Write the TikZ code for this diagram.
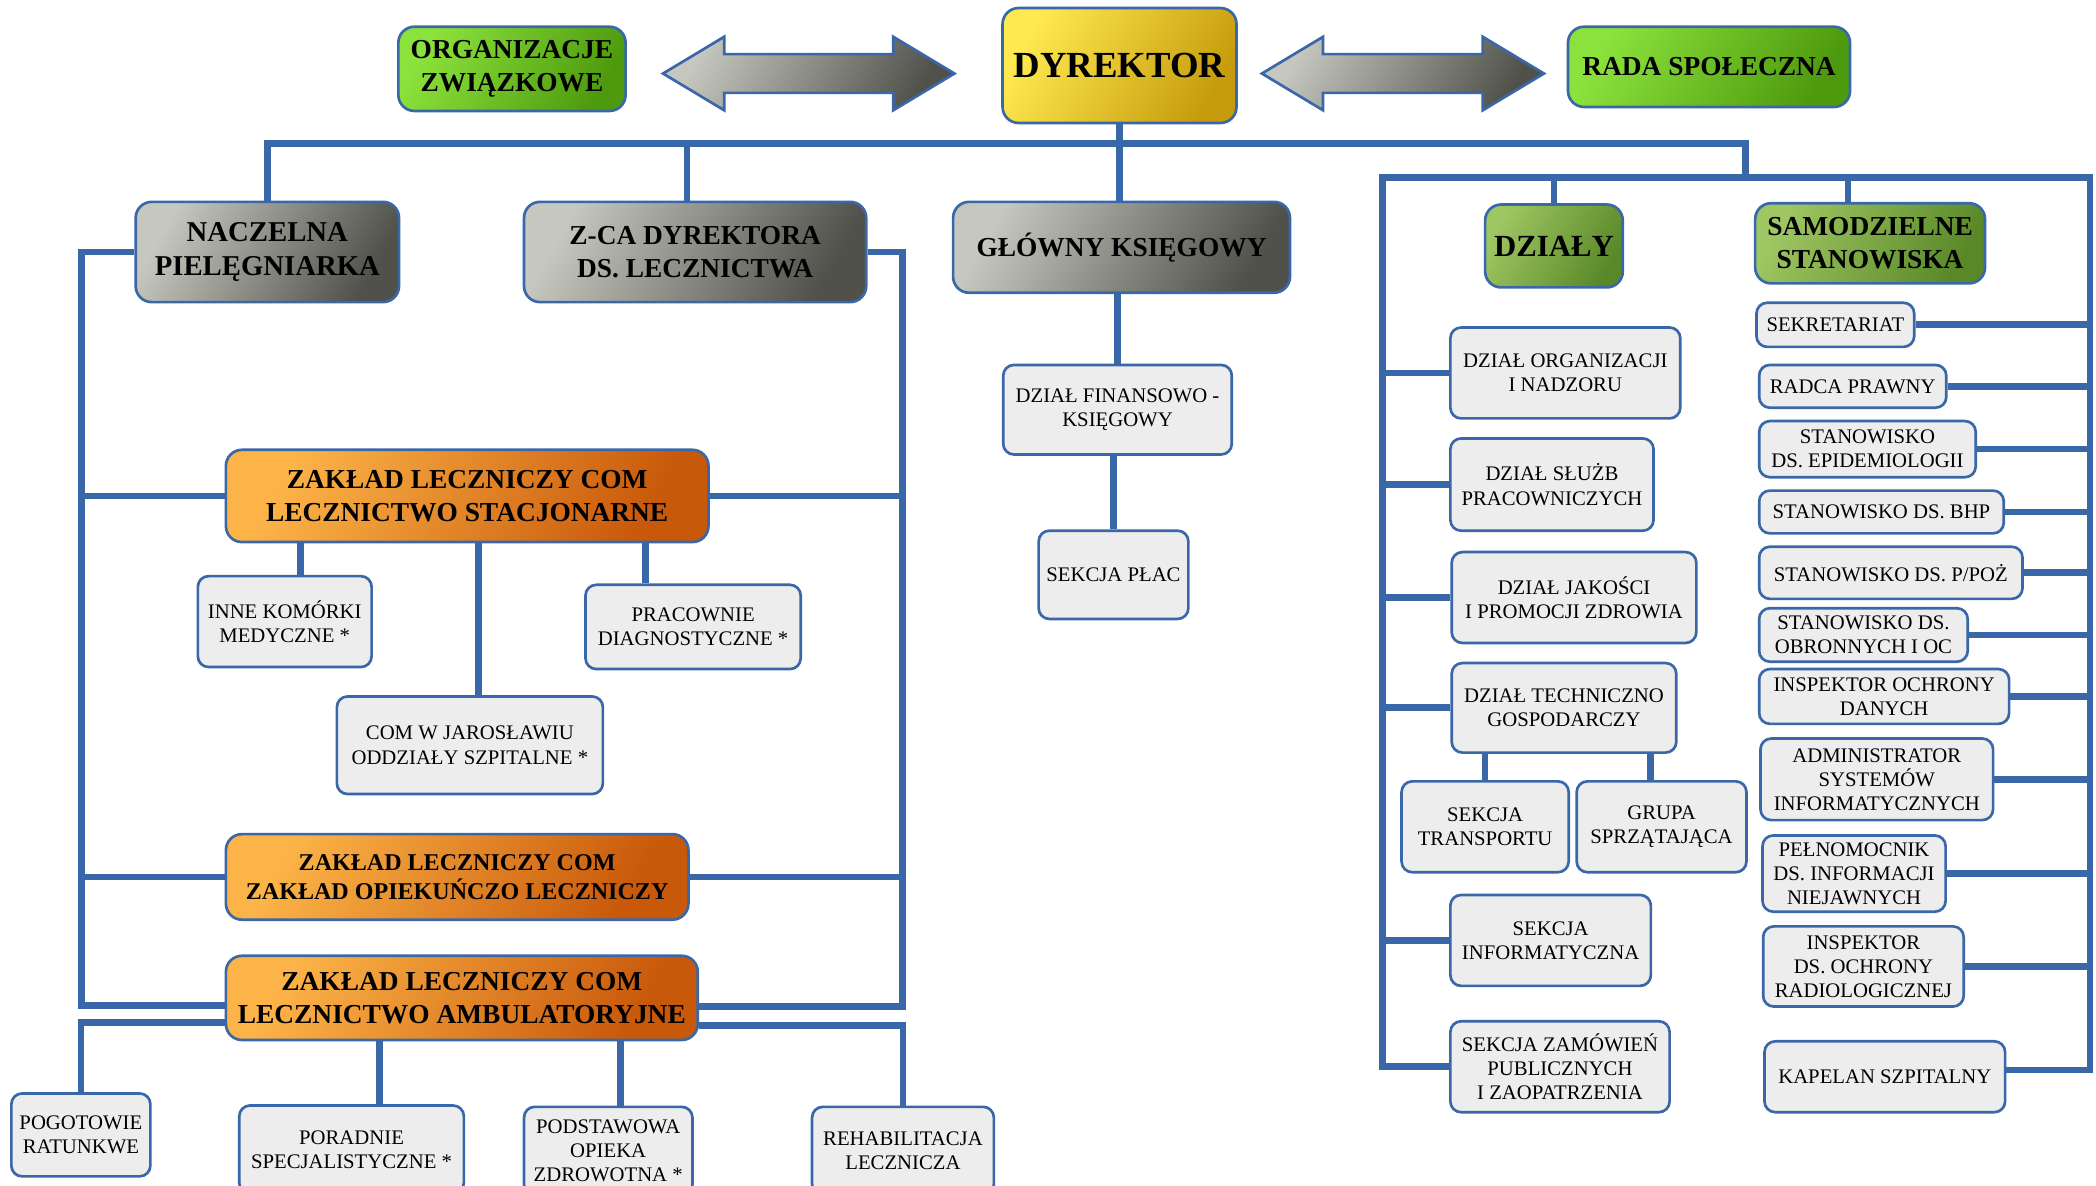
\documentclass[tikz,border=0pt]{standalone}
\usepackage{fontspec}
\setmainfont{Liberation Serif}
\usetikzlibrary{shapes.arrows}
\definecolor{linec}{RGB}{58,103,168}
\definecolor{cellgray}{RGB}{237,237,237}
\definecolor{grayL}{RGB}{198,200,192}
\definecolor{grayD}{RGB}{80,81,74}
\definecolor{greenL}{RGB}{140,226,60}
\definecolor{greenD}{RGB}{78,154,14}
\definecolor{oliveL}{RGB}{158,198,98}
\definecolor{oliveD}{RGB}{90,136,40}
\definecolor{yellowL}{RGB}{255,233,80}
\definecolor{yellowD}{RGB}{198,156,12}
\definecolor{orangeL}{RGB}{252,180,72}
\definecolor{orangeD}{RGB}{200,88,10}
\begin{document}
\begin{tikzpicture}[x=1pt,y=-1pt,
  conn/.style={draw=linec,line width=5pt},
  unit/.style={rounded corners=8pt,draw=linec,line width=2pt,fill=cellgray,align=center,inner sep=2pt,font=\fontsize{15.5}{18}\selectfont},
  head/.style={unit,rounded corners=12pt,font=\fontsize{20.5}{25}\selectfont\bfseries},
  grayhead/.style={head,left color=grayL,right color=grayD,shading angle=60},
  greenhead/.style={head,left color=greenL,right color=greenD,shading angle=60},
  olivehead/.style={head,left color=oliveL,right color=oliveD,shading angle=60},
  yellowhead/.style={head,left color=yellowL,right color=yellowD,shading angle=60},
  orangehead/.style={head,left color=orangeL,right color=orangeD,shading angle=60},
  twoway/.style={double arrow,draw=linec,line width=2pt,left color=grayL,right color=grayD,shading angle=60,inner xsep=0pt,inner ysep=13.5pt,double arrow head extend=13pt,double arrow tip angle=62}]
\useasboundingbox (0,0) rectangle (1568,887);
\node[yellowhead,font=\fontsize{27.5}{30}\selectfont\bfseries,minimum width=175pt,minimum height=86pt] (dyr) at (837.5,49) {DYREKTOR};
\node[greenhead,minimum width=170pt,minimum height=63pt] (zwiazki) at (383,51.5) {ORGANIZACJE\\ZWIĄZKOWE};
\node[greenhead,minimum width=211pt,minimum height=60pt] (rada) at (1278.5,50) {RADA SPOŁECZNA};
\node[twoway,minimum height=218pt] (strL) at (605,55) {};
\node[twoway,minimum height=211pt] (strR) at (1049.5,55) {};
\node[grayhead,font=\fontsize{21.5}{26}\selectfont\bfseries,minimum width=197pt,minimum height=75pt] (nacz) at (200,188.5) {NACZELNA\\PIELĘGNIARKA};
\node[grayhead,minimum width=256pt,minimum height=75pt] (zca) at (520,188.5) {Z-CA DYREKTORA\\DS. LECZNICTWA};
\node[grayhead,minimum width=252pt,minimum height=68pt] (ksieg) at (839,185) {GŁÓWNY KSIĘGOWY};
\node[olivehead,font=\fontsize{23}{26}\selectfont\bfseries,minimum width=103pt,minimum height=62pt] (dzialy) at (1162.5,184) {DZIAŁY};
\node[olivehead,minimum width=172pt,minimum height=60pt] (samo) at (1399,182) {SAMODZIELNE\\STANOWISKA};
\node[orangehead,minimum width=361pt,minimum height=69pt] (stac) at (349.5,371) {ZAKŁAD LECZNICZY COM\\LECZNICTWO STACJONARNE};
\node[orangehead,font=\fontsize{18}{22}\selectfont\bfseries,minimum width=346pt,minimum height=64pt] (opiek) at (342,656) {ZAKŁAD LECZNICZY COM\\ZAKŁAD OPIEKUŃCZO LECZNICZY};
\node[orangehead,minimum width=353pt,minimum height=63pt] (amb) at (345.5,746.5) {ZAKŁAD LECZNICZY COM\\LECZNICTWO AMBULATORYJNE};
\node[unit,minimum width=130pt,minimum height=68pt] (inne) at (213,465) {INNE KOMÓRKI\\MEDYCZNE *};
\node[unit,minimum width=161pt,minimum height=63pt] (prac) at (518.5,469) {PRACOWNIE\\DIAGNOSTYCZNE *};
\node[unit,minimum width=199pt,minimum height=73pt] (comj) at (351.5,557.5) {COM W JAROSŁAWIU\\ODDZIAŁY SZPITALNE *};
\node[unit,minimum width=104pt,minimum height=62pt] (pogot) at (60.5,849) {POGOTOWIE\\RATUNKWE};
\node[unit,minimum width=168pt,minimum height=66pt] (porad) at (263,860) {PORADNIE\\SPECJALISTYCZNE *};
\node[unit,minimum width=126pt,minimum height=66pt] (podst) at (455,861) {PODSTAWOWA\\OPIEKA\\ZDROWOTNA *};
\node[unit,minimum width=136pt,minimum height=66pt] (rehab) at (675.5,861) {REHABILITACJA\\LECZNICZA};
\node[unit,minimum width=171pt,minimum height=67pt] (finans) at (836,306.5) {DZIAŁ FINANSOWO -\\KSIĘGOWY};
\node[unit,minimum width=112pt,minimum height=66pt] (place) at (833,430) {SEKCJA PŁAC};
\node[unit,minimum width=172pt,minimum height=68pt] (org) at (1171,279) {DZIAŁ ORGANIZACJI\\I NADZORU};
\node[unit,minimum width=152pt,minimum height=69pt] (sluzb) at (1161,362.5) {DZIAŁ SŁUŻB\\PRACOWNICZYCH};
\node[unit,minimum width=183pt,minimum height=68pt] (jakosc) at (1177.5,447) {DZIAŁ JAKOŚCI\\I PROMOCJI ZDROWIA};
\node[unit,minimum width=168pt,minimum height=67pt] (tech) at (1170,529.5) {DZIAŁ TECHNICZNO\\GOSPODARCZY};
\node[unit,minimum width=125pt,minimum height=68pt] (transp) at (1111,618.5) {SEKCJA\\TRANSPORTU};
\node[unit,minimum width=127pt,minimum height=68pt] (grupa) at (1243,618.5) {GRUPA\\SPRZĄTAJĄCA};
\node[unit,minimum width=150pt,minimum height=68pt] (inform) at (1160,703.5) {SEKCJA\\INFORMATYCZNA};
\node[unit,minimum width=164pt,minimum height=68pt] (zamow) at (1167,798) {SEKCJA ZAMÓWIEŃ\\PUBLICZNYCH\\I ZAOPATRZENIA};
\node[unit,minimum width=118pt,minimum height=33pt] (sekr) at (1373,243) {SEKRETARIAT};
\node[unit,minimum width=140pt,minimum height=32pt] (radca) at (1386,289) {RADCA PRAWNY};
\node[unit,minimum width=162pt,minimum height=42pt] (epid) at (1397,336) {STANOWISKO\\DS. EPIDEMIOLOGII};
\node[unit,minimum width=183pt,minimum height=32pt] (bhp) at (1407.5,383) {STANOWISKO DS. BHP};
\node[unit,minimum width=197pt,minimum height=39pt] (ppoz) at (1414.5,428.5) {STANOWISKO DS. P/POŻ};
\node[unit,minimum width=156pt,minimum height=40pt] (obron) at (1394,475) {STANOWISKO DS.\\OBRONNYCH I OC};
\node[unit,minimum width=187pt,minimum height=41pt] (iod) at (1409.5,521) {INSPEKTOR OCHRONY\\DANYCH};
\node[unit,minimum width=174pt,minimum height=61pt] (admin) at (1404,583) {ADMINISTRATOR\\SYSTEMÓW\\INFORMATYCZNYCH};
\node[unit,minimum width=137pt,minimum height=57pt] (peln) at (1387,653.5) {PEŁNOMOCNIK\\DS. INFORMACJI\\NIEJAWNYCH};
\node[unit,minimum width=150pt,minimum height=60pt] (radiol) at (1394,723) {INSPEKTOR\\DS. OCHRONY\\RADIOLOGICZNEJ};
\node[unit,minimum width=180pt,minimum height=53pt] (kapel) at (1410,805.5) {KAPELAN SZPITALNY};
\coordinate (hub) at (1306,107.5);
\coordinate (dzL) at (1034,133);
\coordinate (dzR) at (1563.5,133);
\coordinate (lv) at (61,752);
\coordinate (rv) at (675,753);
\draw[conn] (dyr.south) -- (ksieg.north -| dyr.south);
\draw[conn] (nacz.north) |- (hub) -- (hub |- dzL);
\draw[conn] ([xshift=-6pt]zca.north) -- ([xshift=-6pt]zca.north |- hub);
\draw[conn] (zamow.west) -| (dzL) -- (dzR) |- ([yshift=5pt]kapel.east);
\draw[conn] (dzialy.north) -- (dzialy.north |- dzL);
\draw[conn] ([xshift=-16.5pt]samo.north) -- ([xshift=-16.5pt]samo.north |- dzL);
\draw[conn] (org.west) -- (org.west -| dzL);
\draw[conn] (sluzb.west) -- (sluzb.west -| dzL);
\draw[conn] (jakosc.west) -- (jakosc.west -| dzL);
\draw[conn] (tech.west) -- (tech.west -| dzL);
\draw[conn] (inform.west) -- (inform.west -| dzL);
\draw[conn] (transp.north) -- (transp.north |- tech.south);
\draw[conn] ([xshift=-8.5pt]grupa.north) -- ([xshift=-8.5pt]grupa.north |- tech.south);
\draw[conn] (sekr.east) -- (sekr.east -| dzR);
\draw[conn] (radca.east) -- (radca.east -| dzR);
\draw[conn] (epid.east) -- (epid.east -| dzR);
\draw[conn] (bhp.east) -- (bhp.east -| dzR);
\draw[conn] (ppoz.east) -- (ppoz.east -| dzR);
\draw[conn] (obron.east) -- (obron.east -| dzR);
\draw[conn] (iod.east) -- (iod.east -| dzR);
\draw[conn] (admin.east) -- (admin.east -| dzR);
\draw[conn] (peln.east) -- (peln.east -| dzR);
\draw[conn] (radiol.east) -- (radiol.east -| dzR);
\draw[conn] (finans.north) -- (finans.north |- ksieg.south);
\draw[conn] (place.north) -- (place.north |- finans.south);
\draw[conn] (nacz.west) -| (lv) -- (lv -| amb.west);
\draw[conn] (zca.east) -| (rv) -- (rv -| amb.east);
\draw[conn] (stac.west) -- (stac.west -| lv);
\draw[conn] (stac.east) -- (stac.east -| rv);
\draw[conn] (opiek.west) -- (opiek.west -| lv);
\draw[conn] (opiek.east) -- (opiek.east -| rv);
\draw[conn] ([xshift=12pt]inne.north) -- ([xshift=12pt]inne.north |- stac.south);
\draw[conn] ([xshift=6.5pt]comj.north) -- ([xshift=6.5pt]comj.north |- stac.south);
\draw[conn] ([xshift=-35.5pt]prac.north) -- ([xshift=-35.5pt]prac.north |- stac.south);
\draw[conn] ([yshift=-18.5pt]amb.west) -| (pogot.north);
\draw[conn] ([yshift=-20.5pt]amb.east) -| (rehab.north);
\draw[conn] ([xshift=21pt]porad.north) -- ([xshift=21pt]porad.north |- amb.south);
\draw[conn] ([xshift=9pt]podst.north) -- ([xshift=9pt]podst.north |- amb.south);
\end{tikzpicture}
\end{document}
